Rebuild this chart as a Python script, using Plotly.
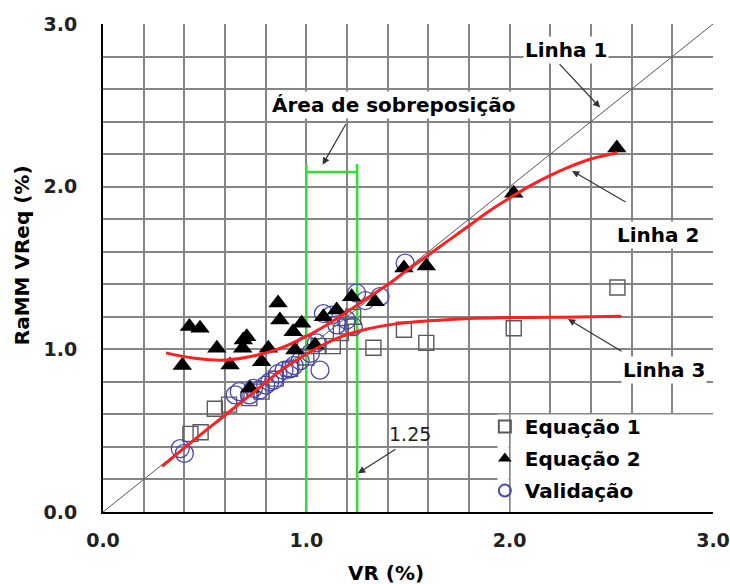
import plotly.graph_objects as go

# ---- Equação 1 (open squares) ----
eq1_x = [0.43, 0.48, 0.55, 0.62, 0.72, 0.78, 0.85, 0.92, 1.00, 1.06, 1.13, 1.17,
         1.20, 1.23, 1.33, 1.48, 1.59, 2.02, 2.53]
eq1_y = [0.48, 0.49, 0.635, 0.66, 0.70, 0.74, 0.82, 0.88, 0.95, 1.02, 1.02, 1.10,
         1.14, 1.20, 1.01, 1.12, 1.04, 1.13, 1.38]

# ---- Equação 2 (filled triangles) ----
eq2_x = [0.39, 0.425, 0.477, 0.56, 0.625, 0.687, 0.69, 0.707, 0.723, 0.78, 0.813,
         0.861, 0.87, 0.935, 0.944, 0.977, 1.043, 1.084, 1.149, 1.223, 1.338,
         1.48, 1.59, 2.02, 2.527]
eq2_y = [0.90, 1.14, 1.13, 1.006, 0.903, 1.006, 1.057, 1.077, 0.76, 0.923, 1.006,
         1.285, 1.18, 1.108, 0.996, 1.16, 1.026, 1.20, 1.242, 1.324, 1.293,
         1.50, 1.513, 1.96, 2.238]

# ---- Validação (open circles) ----
val_x = [0.38, 0.40, 0.65, 0.67, 0.72, 0.74, 0.77, 0.80, 0.82, 0.84, 0.86, 0.89,
         0.92, 0.94, 0.97, 1.00, 1.02, 1.05, 1.067, 1.084, 1.125, 1.15, 1.198,
         1.231, 1.247, 1.29, 1.362, 1.486]
val_y = [0.39, 0.36, 0.72, 0.74, 0.72, 0.76, 0.75, 0.78, 0.80, 0.81, 0.85, 0.87,
         0.88, 0.90, 0.93, 1.03, 0.975, 1.04, 0.872, 1.22, 1.21, 1.15, 1.18,
         1.139, 1.345, 1.30, 1.324, 1.53]

# ---- fitted curves ----
linha1_x = [0.0, 3.0]
linha1_y = [0.0, 3.0]

linha2_x = [0.31, 0.45, 0.60, 0.75, 0.87, 1.00, 1.10, 1.20, 1.30, 1.41, 1.50,
            1.60, 1.70, 1.80, 1.90, 2.00, 2.10, 2.20, 2.30, 2.40, 2.53]
linha2_y = [0.978, 0.945, 0.934, 0.962, 1.006, 1.08, 1.15, 1.23, 1.315, 1.406, 1.49,
            1.58, 1.67, 1.76, 1.85, 1.93, 2.005, 2.07, 2.125, 2.17, 2.208]

linha3_x = [0.29, 0.45, 0.60, 0.75, 0.87, 1.00, 1.15, 1.30, 1.45, 1.60, 1.80,
            2.00, 2.20, 2.40, 2.55]
linha3_y = [0.28, 0.445, 0.595, 0.745, 0.865, 0.97, 1.068, 1.125, 1.158, 1.175, 1.19,
            1.195, 1.197, 1.20, 1.204]

# ---- overlap band ----
overlap_lo = 1.0
overlap_hi = 1.25
overlap_top = 2.14
overlap_bar = 2.09

BOLD = dict(family="DejaVu Sans", size=20, color="black", weight="bold")
RED = "#ff1f1f"
GREEN = "#33dd33"
GRID = "#858585"

fig = go.Figure()

# reference line y = x
fig.add_trace(go.Scatter(x=linha1_x, y=linha1_y, mode="lines", name="Linha 1",
                         line=dict(color="#555555", width=1), showlegend=False))

# overlap area (two vertical limits and the bar between them)
fig.add_trace(go.Scatter(
    x=[overlap_lo, overlap_lo, None, overlap_hi, overlap_hi, None, overlap_lo, overlap_hi],
    y=[0, overlap_top, None, 0, overlap_top, None, overlap_bar, overlap_bar],
    mode="lines", line=dict(color=GREEN, width=2.5), showlegend=False,
    name="Área de sobreposição"))

fig.add_trace(go.Scatter(
    x=eq1_x, y=eq1_y, mode="markers", name="Equação 1", legendgroup="g1", legendrank=1,
    marker=dict(symbol="square-open", size=15, color="#5a5a5a", line=dict(width=1.4))))
fig.add_trace(go.Scatter(
    x=val_x, y=val_y, mode="markers", name="Validação", legendgroup="g3", legendrank=3,
    marker=dict(symbol="circle-open", size=18, color="#4646b4", line=dict(width=1.3))))
fig.add_trace(go.Scatter(
    x=eq2_x, y=eq2_y, mode="markers", name="Equação 2", legendgroup="g2", legendrank=2,
    marker=dict(symbol="triangle-up", size=17, color="black")))

# fitted curves
fig.add_trace(go.Scatter(x=linha2_x, y=linha2_y, mode="lines", name="Linha 2",
                         line=dict(color=RED, width=3, shape="spline"), showlegend=False))
fig.add_trace(go.Scatter(x=linha3_x, y=linha3_y, mode="lines", name="Linha 3",
                         line=dict(color=RED, width=3, shape="spline"), showlegend=False))

axis_common = dict(
    range=[0, 3], dtick=1, tick0=0, tickformat=".1f",
    showgrid=True, gridcolor=GRID, gridwidth=1.5,
    minor=dict(dtick=0.2, showgrid=True, gridcolor=GRID, gridwidth=1.5),
    showline=True, linecolor="black", linewidth=2, mirror=False,
    zeroline=False, ticks="", automargin=False,
    tickfont=dict(family="DejaVu Sans", size=19, color="#222222", weight="bold"),
    fixedrange=True,
)
fig.update_xaxes(**axis_common, ticklabelstandoff=10)
fig.update_yaxes(**axis_common, ticklabelstandoff=20)

arrow = dict(showarrow=True, arrowhead=2, arrowsize=1.2, arrowwidth=1.2,
             arrowcolor="#333333", text="")
annotations = [
    # axis titles
    dict(text="VR (%)", xref="paper", yref="paper", x=0.464, y=-0.1257,
         showarrow=False, font=BOLD, xanchor="center", yanchor="middle"),
    dict(text="RaMM VReq (%)", xref="paper", yref="paper", x=-0.133, y=0.526,
         textangle=-90, showarrow=False, font=BOLD, xanchor="center", yanchor="middle"),
    # labels
    dict(text="Linha 1", x=2.277, y=2.843, showarrow=False, font=BOLD, bgcolor="white"),
    dict(text="Área de sobreposição", x=1.433, y=2.504, showarrow=False, font=BOLD,
         bgcolor="white"),
    dict(text="Linha 2", x=2.73, y=1.704, showarrow=False, font=BOLD, bgcolor="white"),
    dict(text="Linha 3", x=2.76, y=0.873, showarrow=False, font=BOLD, bgcolor="white"),
    dict(text=f"{overlap_hi:.2f}", x=1.51, y=0.478, showarrow=False,
         font=dict(family="DejaVu Sans", size=19, color="#222222")),
    # arrows
    dict(x=2.445, y=2.486, ax=-42, ay=-45, **arrow),
    dict(x=1.08, y=2.135, ax=24, ay=-42, **arrow),
    dict(x=2.307, y=2.097, ax=55, ay=32, **arrow),
    dict(x=2.287, y=1.186, ax=55, ay=33, **arrow),
    dict(x=1.254, y=0.238, ax=39, ay=-25, **arrow),
]

# blank panel behind the legend (covers the grid, keeps the 2.0 line)
legend_panel = [
    dict(type="rect", xref="x", yref="y", x0=1.94, x1=1.995, y0=0, y1=0.6,
         fillcolor="white", line=dict(width=0), layer="between"),
    dict(type="rect", xref="x", yref="y", x0=2.005, x1=3.0, y0=0, y1=0.6,
         fillcolor="white", line=dict(width=0), layer="between"),
]

fig.update_layout(
    width=730, height=584,
    margin=dict(l=103, r=17, t=24, b=72, autoexpand=False),
    paper_bgcolor="white", plot_bgcolor="white",
    annotations=annotations,
    shapes=legend_panel,
    legend=dict(x=0.626, y=0.215, xanchor="left", yanchor="top",
                bgcolor="rgba(0,0,0,0)", borderwidth=0, font=BOLD,
                traceorder="grouped", tracegroupgap=3, itemsizing="constant"),
)

fig.write_html("out.html")
